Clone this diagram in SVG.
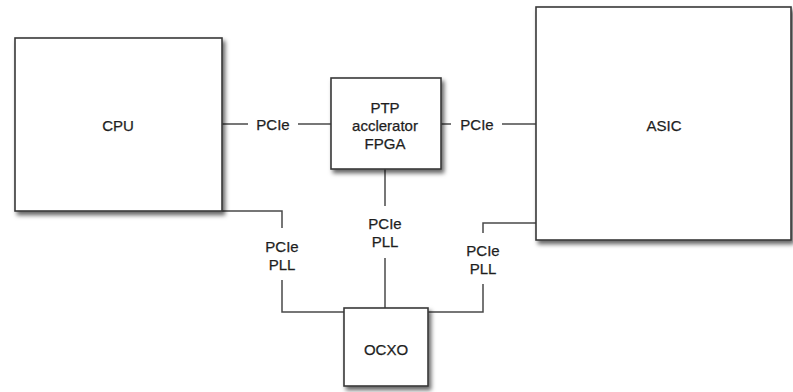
<svg xmlns="http://www.w3.org/2000/svg" width="793" height="392" viewBox="0 0 793 392">
<style>
  .box { fill: #ffffff; stroke: #3a3a3a; stroke-width: 1.6; filter: url(#sh); }
  .wire { fill: none; stroke: #4a4a4a; stroke-width: 1.5; }
  text { font-family: "Liberation Sans", Arial, Helvetica, sans-serif; font-size: 15px; fill: #1e1e1e; stroke: #1e1e1e; stroke-width: 0.25; text-anchor: middle; }
</style>
<defs>
  <filter id="sh" x="-10%" y="-10%" width="125%" height="125%">
    <feDropShadow dx="2.5" dy="3.5" stdDeviation="2.2" flood-color="#000" flood-opacity="0.6"/>
  </filter>
</defs>
<rect width="793" height="392" fill="#ffffff"/>
<g id="connectors">
  <line class="wire" x1="222" y1="124" x2="248" y2="124"/>
  <line class="wire" x1="298" y1="124" x2="331" y2="124"/>
  <line class="wire" x1="441" y1="124" x2="451" y2="124"/>
  <line class="wire" x1="502" y1="124" x2="536" y2="124"/>
  <polyline class="wire" points="222,211 282,211 282,228"/>
  <polyline class="wire" points="282,280 282,312 344,312"/>
  <line class="wire" x1="385" y1="169" x2="385" y2="206"/>
  <line class="wire" x1="385" y1="258" x2="385" y2="308"/>
  <polyline class="wire" points="536,223 483,223 483,233"/>
  <polyline class="wire" points="483,284 483,312 428,312"/>
  <text x="273" y="130">PCIe</text>
  <text x="477" y="130">PCIe</text>
  <text x="282" y="252">PCIe</text>
  <text x="282" y="270">PLL</text>
  <text x="385" y="229">PCIe</text>
  <text x="385" y="247">PLL</text>
  <text x="483" y="255.5">PCIe</text>
  <text x="483" y="274">PLL</text>
</g>
<g id="cpu">
  <rect class="box" x="15" y="38" width="207" height="173"/>
  <text x="118" y="131">CPU</text>
</g>
<g id="fpga">
  <rect class="box" x="331" y="78" width="110" height="91"/>
  <text x="385" y="113">PTP</text>
  <text x="385" y="131">acclerator</text>
  <text x="385" y="149">FPGA</text>
</g>
<g id="asic">
  <rect class="box" x="536" y="7" width="255" height="233"/>
  <text x="664" y="131">ASIC</text>
</g>
<g id="ocxo">
  <rect class="box" x="344" y="308" width="84" height="78"/>
  <text x="386" y="354.5">OCXO</text>
</g>
</svg>
